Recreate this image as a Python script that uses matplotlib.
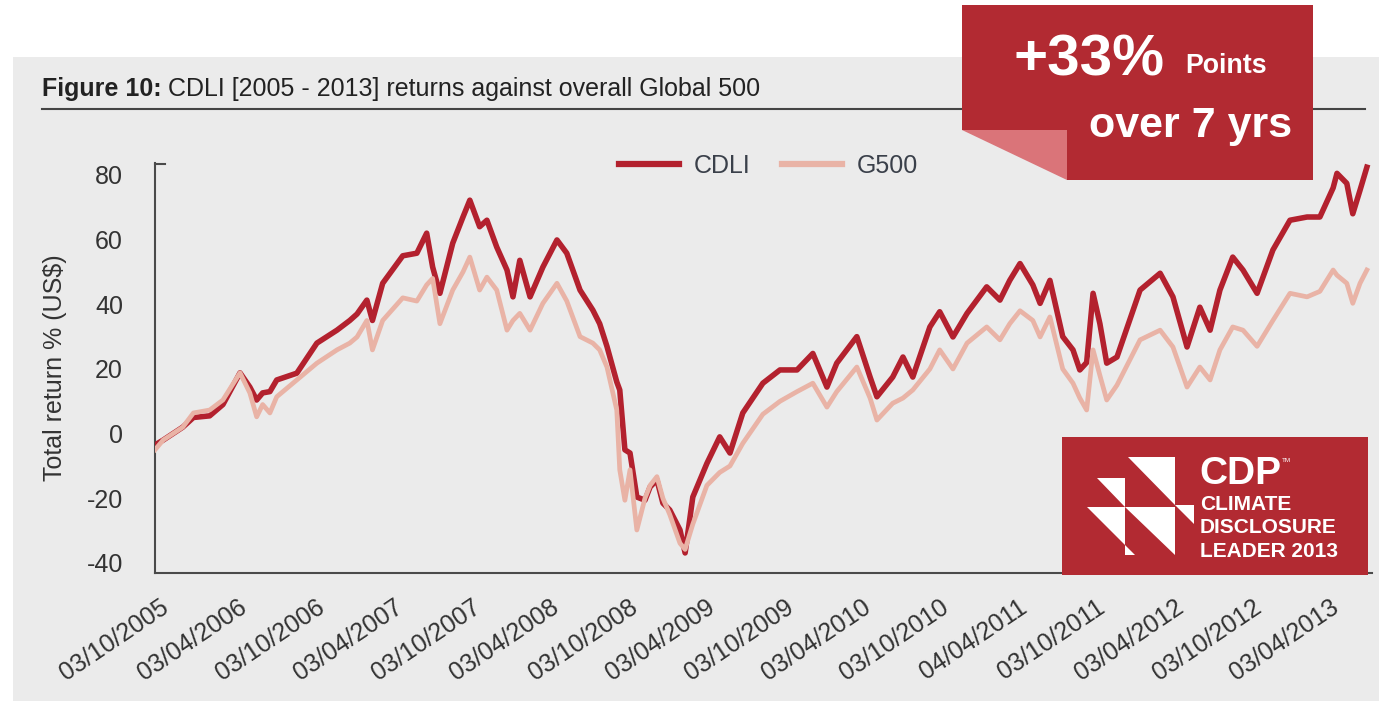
import matplotlib
matplotlib.use("Agg")
import matplotlib.pyplot as plt
from matplotlib.patches import Rectangle, Polygon
from matplotlib.lines import Line2D
from matplotlib.transforms import ScaledTranslation
import pandas as pd

plt.rcParams['font.family'] = ['Liberation Sans', 'DejaVu Sans']

# ---------------- data ----------------
dates = [
    "2005-10-03", "2005-10-22", "2005-12-07", "2006-01-01", "2006-02-08", "2006-03-11", "2006-04-20", "2006-05-13", "2006-05-29", "2006-06-12",
    "2006-06-29", "2006-07-15", "2006-08-31", "2006-10-17", "2006-12-03", "2007-01-02", "2007-01-19", "2007-02-11", "2007-02-24", "2007-03-20",
    "2007-05-06", "2007-06-08", "2007-07-01", "2007-07-15", "2007-08-01", "2007-08-31", "2007-09-24", "2007-10-10", "2007-11-02", "2007-11-19",
    "2007-12-12", "2008-01-05", "2008-01-19", "2008-02-04", "2008-02-28", "2008-03-29", "2008-05-01", "2008-05-24", "2008-06-24", "2008-07-24",
    "2008-08-09", "2008-08-26", "2008-09-18", "2008-09-25", "2008-10-07", "2008-10-19", "2008-11-04", "2008-11-23", "2008-12-05", "2008-12-21",
    "2009-01-04", "2009-01-20", "2009-02-13", "2009-02-25", "2009-03-15", "2009-04-17", "2009-05-17", "2009-06-10", "2009-07-10", "2009-08-26",
    "2009-10-05", "2009-11-14", "2009-12-21", "2010-01-23", "2010-02-15", "2010-04-03", "2010-05-04", "2010-05-20", "2010-06-26", "2010-07-20",
    "2010-08-12", "2010-09-21", "2010-10-14", "2010-11-14", "2010-12-17", "2011-02-01", "2011-03-04", "2011-03-27", "2011-04-20", "2011-05-20",
    "2011-06-06", "2011-06-29", "2011-07-29", "2011-08-22", "2011-09-07", "2011-09-23", "2011-10-08", "2011-10-24", "2011-11-09", "2011-12-03",
    "2012-01-26", "2012-03-13", "2012-04-12", "2012-05-15", "2012-06-14", "2012-07-08", "2012-07-31", "2012-08-30", "2012-09-23", "2012-10-26",
    "2012-12-02", "2013-01-11", "2013-02-20", "2013-03-22", "2013-04-22", "2013-05-01", "2013-05-24", "2013-06-07", "2013-06-24", "2013-07-10",
]

cdli = [
    -3.5, -2, 2, 5, 5.5, 9, 18.8, 14.4, 10.4, 12.6,
    13, 16.6, 18.7, 28, 32, 35, 37, 41.3, 35, 46.5,
    55, 55.8, 62, 51.5, 43.4, 58.9, 67, 72.2, 64, 66,
    57.7, 50.6, 42.3, 53.6, 42.3, 51.5, 59.9, 55.8, 44.4, 38.2,
    34, 27, 16, 13.5, -5, -6, -19.6, -20.6, -16.5, -14.3,
    -21.5, -23.6, -29.8, -36.9, -19.6, -9.2, -1, -6, 6.4, 15.6,
    19.7, 19.7, 24.8, 14.4, 21.8, 30, 17.5, 11.4, 17.5, 23.7,
    17.5, 33, 37.7, 29.9, 37.2, 45.4, 41.3, 47.4, 52.6, 46,
    40.3, 47.4, 30, 25.9, 19.7, 22, 43.4, 34, 21.8, 23.7,
    44.4, 49.6, 42.3, 26.8, 39.1, 32, 44.4, 54.6, 50.6, 43.4,
    56.8, 66, 67, 67, 76, 80.5, 77.4, 68, 75.3, 82.4,
]

g500 = [
    -5, -2, 2, 6.4, 7.3, 10.4, 18.8, 12.6, 5.2, 9,
    6.4, 11.4, 16.6, 21.8, 25.9, 28, 29.9, 35, 25.9, 35,
    42, 41, 46, 48, 34, 44.4, 50, 54.6, 44.4, 48.4,
    44.4, 32, 35, 37.2, 32, 40.3, 46.5, 41, 30, 28,
    25.9, 20.6, 7.3, -11.2, -20.6, -11.2, -29.8, -20, -16, -13.3,
    -20, -25, -33.9, -35.8, -28, -16, -12, -10, -3, 6,
    10, 13, 15.6, 8.2, 13, 20.6, 11, 4.2, 9.4, 11,
    13.5, 20, 25.9, 20, 28, 33, 29, 34, 38, 35,
    29.9, 36.1, 20, 15.6, 11, 7.3, 25.9, 18, 10.4, 15,
    29, 32, 26.8, 14.4, 20.6, 16.6, 25.9, 33, 32, 27,
    35, 43.4, 42.3, 44, 50.6, 49, 46.5, 40.3, 46.5, 50.6,
]

tick_dates = ["2005-10-03", "2006-04-03", "2006-10-03", "2007-04-03", "2007-10-03", "2008-04-03",
              "2008-10-03", "2009-04-03", "2009-10-03", "2010-04-03", "2010-10-03", "2011-04-04",
              "2011-10-03", "2012-04-03", "2012-10-03", "2013-04-03"]
tick_labels = ["03/10/2005", "03/04/2006", "03/10/2006", "03/04/2007", "03/10/2007", "03/04/2008",
               "03/10/2008", "03/04/2009", "03/10/2009", "03/04/2010", "03/10/2010", "04/04/2011",
               "03/10/2011", "03/04/2012", "03/10/2012", "03/04/2013"]
y_ticks = [-40, -20, 0, 20, 40, 60, 80]

series_names = ["CDLI", "G500"]
title_bold = "Figure 10:"
title_rest = "CDLI [2005 - 2013] returns against overall Global 500"
y_label = "Total return % (US$)"

# ---------------- styling ----------------
W, H = 1379, 701
BG = "#EBEBEB"
RED = "#B22A32"
FOLD = "#DA7479"
CDLI_C = "#B3212E"
G500_C = "#E9B3A6"
TXT = "#333333"


def fx(x):
    return x / W


def fy(y):
    return 1 - y / H


fig = plt.figure(figsize=(W / 100, H / 100), dpi=100)
fig.patch.set_facecolor("white")

# grey panel
fig.add_artist(Rectangle((fx(13), 0), 1 - fx(13), fy(57), transform=fig.transFigure,
                         facecolor=BG, edgecolor="none", zorder=-10))

ax = fig.add_axes([fx(155), fy(573), (1372 - 155) / W, (573 - 163) / H])
ax.patch.set_alpha(0)

x = pd.to_datetime(dates)
ax.plot(x, cdli, color=CDLI_C, lw=4.0, solid_joinstyle="round", label=series_names[0], zorder=3)
ax.plot(x, g500, color=G500_C, lw=3.4, solid_joinstyle="round", label=series_names[1], zorder=4)

ax.set_xlim(pd.Timestamp("2005-10-03"), pd.Timestamp("2013-07-22"))
ax.set_ylim(-43.1, 83.7)

for s in ["top", "right"]:
    ax.spines[s].set_visible(False)
for s in ["left", "bottom"]:
    ax.spines[s].set_color("#4A4A4A")
    ax.spines[s].set_linewidth(1.5)

ax.set_yticks(y_ticks)
ax.set_yticklabels([str(v) for v in y_ticks])
ax.tick_params(axis="y", length=0, pad=23, labelsize=18, labelcolor=TXT)

ax.set_xticks(pd.to_datetime(tick_dates))
ax.set_xticklabels(tick_labels)
ax.tick_params(axis="x", length=0, pad=16, labelsize=18, labelcolor=TXT)
off = ScaledTranslation(0.05, 0, fig.dpi_scale_trans)
for lab in ax.get_xticklabels():
    lab.set_rotation(34)
    lab.set_ha("right")
    lab.set_va("top")
    lab.set_rotation_mode("anchor")
    lab.set_transform(lab.get_transform() + off)

# small top tick on the y axis
fig.add_artist(Line2D([fx(155), fx(165)], [fy(164), fy(164)], transform=fig.transFigure,
                      color="#4A4A4A", lw=1.5))

fig.text(fx(55), fy(368), y_label, rotation=90, ha="center", va="center", fontsize=18, color=TXT)

# legend
leg = ax.legend(ncol=2, loc="center left", bbox_to_anchor=(fx(619), fy(166)),
                bbox_transform=fig.transFigure, frameon=False, fontsize=18,
                handlelength=2.4, handletextpad=0.6, columnspacing=1.25,
                borderaxespad=0, borderpad=0)
for t in leg.get_texts():
    t.set_color("#3A404A")
for h in leg.get_lines():
    h.set_linewidth(4.5)

# title
t1 = fig.text(fx(42), fy(96), title_bold, fontsize=18, fontweight="bold", color="#222222", va="baseline")
r = fig.canvas.get_renderer()
bb = t1.get_window_extent(renderer=r)
fig.text(bb.x1 / W + fx(6), fy(96), title_rest, fontsize=18, color="#222222", va="baseline")
fig.add_artist(Line2D([fx(42), fx(1365)], [fy(109), fy(109)], transform=fig.transFigure,
                      color="#444444", lw=1.5))

# red callout
callout = [(962, 5), (1313, 5), (1313, 180), (1067, 180), (1067, 130), (962, 130)]
fig.add_artist(Polygon([(fx(a), fy(b)) for a, b in callout], closed=True, transform=fig.transFigure,
                       facecolor=RED, edgecolor="none", zorder=5))
fold = [(962, 130), (1067, 130), (1067, 180)]
fig.add_artist(Polygon([(fx(a), fy(b)) for a, b in fold], closed=True, transform=fig.transFigure,
                       facecolor=FOLD, edgecolor="none", zorder=5))
fig.text(fx(1013), fy(75), "+33%", fontsize=42, fontweight="bold", color="white", va="baseline", zorder=6)
fig.text(fx(1185), fy(73), "Points", fontsize=19.3, fontweight="bold", color="white", va="baseline", zorder=6)
fig.text(fx(1292), fy(137), "over 7 yrs", fontsize=31, fontweight="bold", color="white",
         va="baseline", ha="right", zorder=6)

# CDP logo box
fig.add_artist(Rectangle((fx(1062), fy(575)), (1368 - 1062) / W, (575 - 437) / H, transform=fig.transFigure,
                         facecolor=RED, edgecolor="none", zorder=5))
tris = [
    [(1128, 457), (1175, 457), (1175, 505)],
    [(1097, 478), (1125, 478), (1125, 507)],
    [(1087, 507), (1125, 507), (1125, 545)],
    [(1125, 507), (1175, 507), (1175, 555)],
    [(1125, 545), (1125, 555), (1135, 555)],
    [(1175, 505), (1194, 505), (1194, 524)],
]
for tri in tris:
    fig.add_artist(Polygon([(fx(a), fy(b)) for a, b in tri], closed=True, transform=fig.transFigure,
                           facecolor="white", edgecolor="none", zorder=6))
fig.text(fx(1199), fy(484), "CDP", fontsize=28, fontweight="bold", color="white", va="baseline", zorder=7)
fig.text(fx(1282), fy(462), "TM", fontsize=4.5, color="white", va="baseline", zorder=7)
fig.text(fx(1200), fy(510), "CLIMATE", fontsize=15, fontweight="bold", color="white", va="baseline", zorder=7)
fig.text(fx(1200), fy(533), "DISCLOSURE", fontsize=15, fontweight="bold", color="white", va="baseline", zorder=7)
fig.text(fx(1200), fy(557), "LEADER 2013", fontsize=15, fontweight="bold", color="white", va="baseline", zorder=7)

fig.savefig("out.png", dpi=100, facecolor=fig.get_facecolor())
